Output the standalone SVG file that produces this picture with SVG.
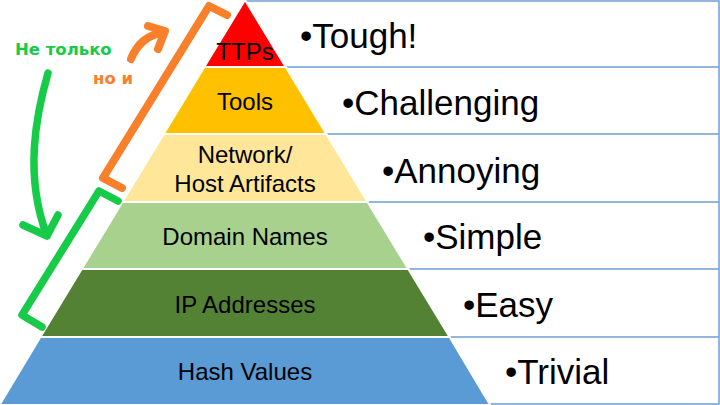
<svg xmlns="http://www.w3.org/2000/svg" width="720" height="405" viewBox="0 0 720 405">
<style>
.band{stroke:#ffffff;stroke-width:2}
.lbl{font-family:"Liberation Sans",Arial,sans-serif;font-size:24px;fill:#000;text-anchor:middle}
.rt{font-family:"Liberation Sans",Arial,sans-serif;font-size:35px;fill:#000}
.grid{stroke:#6F9FD8;stroke-width:1.5;fill:none}
.org{stroke:#F8802B;stroke-width:8;fill:none;stroke-linecap:round;stroke-linejoin:round}
.grn{stroke:#15CB48;stroke-width:7.5;fill:none;stroke-linecap:round;stroke-linejoin:round}
.ann{font-family:"DejaVu Sans",Verdana,sans-serif;font-weight:bold;font-size:16.5px}
</style>
<rect width="720" height="405" fill="#ffffff"/>
<g id="table">
<path class="grid" d="M245,1H719V404H490 M285.7,67H719 M326.3,134H719 M367.6,202H719 M408.3,269H719 M449.6,337H719"/>
</g>
<g id="ttps"><polygon class="band" fill="#FF0000" points="245,0 285.7,67 204.3,67"/><text class="lbl" x="245" y="60">TTPs</text></g>
<g id="tools"><polygon class="band" fill="#FFC000" points="204.3,67 285.7,67 326.3,134 163.7,134"/><text class="lbl" x="245" y="110">Tools</text></g>
<g id="artifacts"><polygon class="band" fill="#FFE699" points="163.7,134 326.3,134 367.6,202 122.4,202"/><text class="lbl" x="245" y="163">Network/</text><text class="lbl" x="245" y="192">Host Artifacts</text></g>
<g id="domains"><polygon class="band" fill="#A9D18E" points="122.4,202 367.6,202 408.3,269 81.7,269"/><text class="lbl" x="245" y="245">Domain Names</text></g>
<g id="ip"><polygon class="band" fill="#548235" points="81.7,269 408.3,269 449.6,337 40.4,337"/><text class="lbl" x="245" y="313">IP Addresses</text></g>
<g id="hash"><polygon class="band" fill="#5B9BD5" points="40.4,337 449.6,337 490.2,405 -0.5,405"/><text class="lbl" x="245" y="380">Hash Values</text></g>
<g id="tough"><text class="rt" x="300" y="48">•Tough!</text></g>
<g id="challenging"><text class="rt" x="342" y="115">•Challenging</text></g>
<g id="annoying"><text class="rt" x="382" y="183">•Annoying</text></g>
<g id="simple"><text class="rt" x="423" y="249">•Simple</text></g>
<g id="easy"><text class="rt" x="463" y="317">•Easy</text></g>
<g id="trivial"><text class="rt" x="505" y="384">•Trivial</text></g>
<g id="notonly"><text class="ann" x="15" y="55" fill="#15CB48">Не только</text></g>
<g id="butalso"><text class="ann" x="93" y="84" fill="#F8802B">но и</text></g>
<g id="connectors">
<path class="org" d="M227,15 L209,6 L103,178 L122,188"/>
<path class="org" d="M131,59 Q140,36 164,32 M148,26 L165,31 L158,49"/>
<path class="grn" d="M118,201 L99,191 L22,315 L42,327"/>
<path class="grn" d="M48,73 C36,115 24,175 47,236 M23,225 L47,236 L58,215"/>
</g>
</svg>
